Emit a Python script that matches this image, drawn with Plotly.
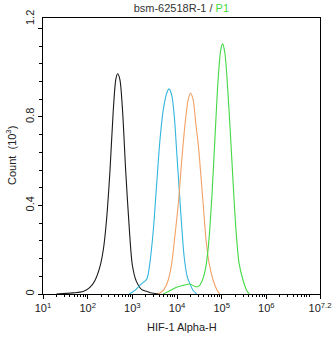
import plotly.graph_objects as go

# log10 of fluorescence intensity and counts (x10^3)
black_logx = [1.30, 1.67, 1.90, 2.05, 2.16, 2.27, 2.35, 2.42, 2.50, 2.57, 2.63, 2.67, 2.72, 2.78, 2.85, 2.93, 3.00, 3.09, 3.21, 3.32, 3.40, 3.62]
black_y    = [0.0, 0.005, 0.011, 0.03, 0.06, 0.12, 0.20, 0.33, 0.56, 0.82, 0.97, 0.995, 0.97, 0.83, 0.56, 0.30, 0.13, 0.057, 0.02, 0.012, 0.006, 0.0]

blue_logx = [2.93, 3.05, 3.17, 3.28, 3.33, 3.39, 3.47, 3.54, 3.62, 3.69, 3.77, 3.82, 3.88, 3.94, 3.99, 4.05, 4.10, 4.16, 4.23, 4.29, 4.36, 4.44]
blue_y    = [0.0, 0.015, 0.04, 0.058, 0.07, 0.137, 0.29, 0.485, 0.70, 0.83, 0.908, 0.927, 0.90, 0.80, 0.65, 0.47, 0.32, 0.167, 0.076, 0.046, 0.016, 0.0]

orange_logx = [3.58, 3.69, 3.80, 3.88, 3.95, 4.03, 4.10, 4.18, 4.25, 4.30, 4.36, 4.42, 4.48, 4.53, 4.59, 4.65, 4.72, 4.81, 4.90, 4.96]
orange_y    = [0.0, 0.016, 0.061, 0.137, 0.258, 0.41, 0.59, 0.77, 0.878, 0.908, 0.878, 0.77, 0.666, 0.545, 0.394, 0.243, 0.137, 0.061, 0.016, 0.0]

green_logx = [3.69, 3.84, 3.99, 4.14, 4.29, 4.40, 4.48, 4.55, 4.63, 4.70, 4.78, 4.85, 4.92, 4.98, 5.02, 5.07, 5.13, 5.19, 5.26, 5.32, 5.39, 5.48, 5.56, 5.62]
green_y    = [0.0, 0.015, 0.031, 0.039, 0.045, 0.034, 0.034, 0.054, 0.107, 0.212, 0.44, 0.71, 0.97, 1.105, 1.13, 1.09, 0.94, 0.74, 0.485, 0.288, 0.137, 0.061, 0.016, 0.0]

x_tick_exponents = [1, 2, 3, 4, 5, 6, 7.2]
x_tick_labels = ["10<sup>1</sup>", "10<sup>2</sup>", "10<sup>3</sup>", "10<sup>4</sup>",
                 "10<sup>5</sup>", "10<sup>6</sup>", "10<sup>7.2</sup>"]
y_tick_vals = [0, 0.4, 0.8, 1.2]
y_tick_labels = ["0", "0.4", "0.8", ""]

series = [
    (black_logx, black_y, "#1a1a1a"),
    (blue_logx, blue_y, "#33b5dd"),
    (orange_logx, orange_y, "#f2a166"),
    (green_logx, green_y, "#44d844"),
]

fig = go.Figure()
for lx, y, c in series:
    fig.add_trace(go.Scatter(x=[10 ** v for v in lx], y=y, mode="lines",
                             line=dict(color=c, width=1.1, shape="spline", smoothing=0.8),
                             showlegend=False, hoverinfo="skip"))

minor_vals = [m * 10 ** e for e in range(1, 8) for m in range(2, 10) if m * 10 ** e < 10 ** 7.2]
y_minor_vals = [round(0.08 * i, 2) for i in range(16) if i % 5 != 0]

font = dict(family="Liberation Sans, Arial, sans-serif", size=11, color="#222")

fig.update_layout(
    width=334, height=337,
    margin=dict(l=43, r=14, t=18, b=43, autoexpand=False),
    paper_bgcolor="white", plot_bgcolor="white",
    font=font,
    title=dict(text="bsm-62518R-1 / <span style='color:#44d844'>P1</span>",
               x=0.543, xanchor="center", y=0.975, yanchor="middle",
               font=dict(family="Liberation Sans, Arial, sans-serif", size=11, color="#333")),
    xaxis=dict(type="log", range=[1, 7.2], automargin=False,
               tickvals=[10 ** v for v in x_tick_exponents], ticktext=x_tick_labels,
               ticks="outside", ticklen=4, tickcolor="black", tickwidth=1,
               minor=dict(tickmode="array", tickvals=minor_vals, ticks="outside", ticklen=2,
                          tickcolor="black", tickwidth=1),
               showline=True, linecolor="black", linewidth=1, mirror=True,
               showgrid=False, zeroline=False,
               tickfont=dict(size=11)),
    yaxis=dict(range=[0, 1.247], automargin=False,
               tickvals=y_tick_vals, ticktext=y_tick_labels, tickangle=-90,
               ticks="outside", ticklen=4, tickcolor="black", tickwidth=1,
               minor=dict(tickmode="array", tickvals=y_minor_vals, ticks="outside", ticklen=3,
                          tickcolor="black", tickwidth=1),
               showline=True, linecolor="black", linewidth=1, mirror=True,
               showgrid=False, zeroline=False,
               tickfont=dict(size=11)),
)

fig.add_annotation(text="1.2", xref="paper", yref="paper", x=0, y=1.0,
                   xanchor="center", yanchor="middle", xshift=-13, textangle=-90,
                   showarrow=False, font=dict(size=11, color="#222"))
fig.add_annotation(text="HIF-1 Alpha-H", xref="paper", yref="paper", x=0.5, y=-0.12,
                   xanchor="center", yanchor="middle", showarrow=False,
                   font=dict(size=11, color="#222"))
fig.add_annotation(text="Count  (10<sup>3</sup>)", xref="paper", yref="paper", x=0, y=0.5,
                   xanchor="center", yanchor="middle", xshift=-32, textangle=-90,
                   showarrow=False, font=dict(size=11, color="#222"))

fig.write_html("out.html")
